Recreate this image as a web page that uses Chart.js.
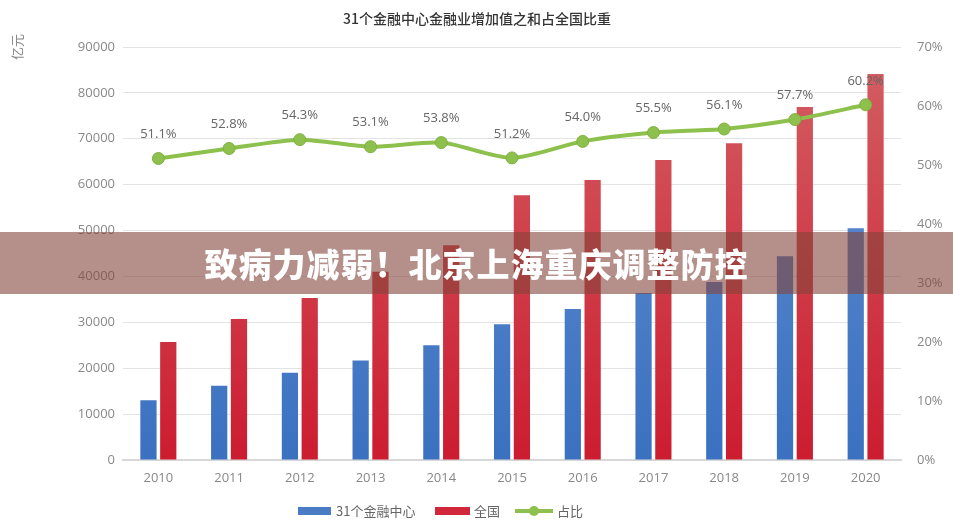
<!DOCTYPE html>
<html>
<head>
<meta charset="utf-8">
<script src="https://cdn.jsdelivr.net/npm/chart.js@4/dist/chart.umd.min.js"></script>
<style>
  html, body { margin: 0; padding: 0; background: #fff; }
  #wrap { position: relative; width: 953px; height: 527px; }
  #banner {
    position: absolute; left: 0; top: 232px; width: 953px; height: 62px;
    background: rgba(131, 68, 58, 0.6);
    color: #fff; font-family: 'Noto Sans CJK SC', sans-serif; font-weight: 900;
    font-size: 33px; line-height: 62px; text-align: center; letter-spacing: 1px;
  }
</style>
</head>
<body>
<div id="wrap">
  <canvas id="finChart" width="953" height="527"></canvas>
  <div id="banner">致病力减弱！北京上海重庆调整防控</div>
</div>
<script>
const years = ['2010', '2011', '2012', '2013', '2014', '2015', '2016', '2017', '2018', '2019', '2020'];
const centers31 = [13000, 16200, 19000, 21700, 25000, 29600, 32900, 36400, 38800, 44400, 50500];
const national = [25700, 30700, 35300, 41000, 46800, 57700, 61000, 65400, 69000, 76900, 84100];
const share = [51.1, 52.8, 54.3, 53.1, 53.8, 51.2, 54.0, 55.5, 56.1, 57.7, 60.2];

const font = "'Open Sans', 'Noto Sans CJK SC', sans-serif";
const cjk = "'Noto Sans CJK SC', sans-serif";

function grad(ctx, top, bottom) {
    const area = ctx.chart.chartArea;
    if (!area) return bottom;
    const g = ctx.chart.ctx.createLinearGradient(0, area.top, 0, area.bottom);
    g.addColorStop(0, top);
    g.addColorStop(1, bottom);
    return g;
}

// labels above the line points, title, unit and legend
const extras = {
    id: 'extras',
    afterDatasetsDraw(chart) {
        const c = chart.ctx;
        const meta = chart.getDatasetMeta(0);
        c.save();
        c.font = '13px ' + font;
        c.fillStyle = '#666';
        c.textAlign = 'center';
        c.textBaseline = 'middle';
        meta.data.forEach((pt, i) => {
            c.fillText(share[i].toFixed(1) + '%', pt.x, pt.y - 24);
        });
        c.restore();
    },
    afterDraw(chart) {
        const c = chart.ctx;
        c.save();
        c.fillStyle = '#333';
        c.font = '500 14px ' + cjk;
        c.textAlign = 'center';
        c.textBaseline = 'middle';
        c.fillText('31个金融中心金融业增加值之和占全国比重', 477, 19);

        c.translate(17, 47);
        c.rotate(-Math.PI / 2);
        c.fillStyle = '#888';
        c.font = '13px ' + cjk;
        c.fillText('亿元', 0, 0);
        c.restore();

        // legend
        c.save();
        c.font = '13px ' + cjk;
        c.textBaseline = 'middle';
        const y = 511;
        c.fillStyle = '#4a7cc6';
        c.fillRect(298, y - 4, 33, 8);
        c.fillStyle = '#666';
        c.fillText('31个金融中心', 336, y);
        c.fillStyle = '#d0283a';
        c.fillRect(435, y - 4, 35, 8);
        c.fillStyle = '#666';
        c.fillText('全国', 474, y);
        c.strokeStyle = '#8dc04c';
        c.lineWidth = 4;
        c.beginPath();
        c.moveTo(515, y);
        c.lineTo(553, y);
        c.stroke();
        c.fillStyle = '#8dc04c';
        c.beginPath();
        c.arc(534, y, 5, 0, Math.PI * 2);
        c.fill();
        c.fillStyle = '#666';
        c.fillText('占比', 557, y);
        c.restore();
    }
};

const ctx = document.getElementById('finChart').getContext('2d');
const finChart = new Chart(ctx, {
    type: 'bar',
    data: {
        labels: years,
        datasets: [
            {
                label: '占比',
                type: 'line',
                data: share,
                yAxisID: 'y1',
                borderColor: '#8dc04c',
                backgroundColor: '#8dc04c',
                pointBackgroundColor: '#8dc04c',
                pointBorderColor: '#7fb040',
                borderWidth: 4,
                pointRadius: 6,
                pointBorderWidth: 1,
                tension: 0.25,
                order: 0
            },
            {
                label: '31个金融中心',
                data: centers31,
                yAxisID: 'y',
                backgroundColor: (c) => grad(c, '#6690d2', '#3a71c0'),
                categoryPercentage: 0.56,
                barPercentage: 0.82,
                order: 1
            },
            {
                label: '全国',
                data: national,
                yAxisID: 'y',
                backgroundColor: (c) => grad(c, '#d36064', '#cc1c30'),
                categoryPercentage: 0.56,
                barPercentage: 0.82,
                order: 1
            }
        ]
    },
    options: {
        responsive: false,
        animation: false,
        layout: { padding: { top: 47, left: 0, right: 0, bottom: 0 } },
        plugins: {
            legend: { display: false },
            title: { display: false },
            tooltip: { enabled: false }
        },
        scales: {
            x: {
                grid: { display: false, drawTicks: false },
                border: { color: '#d8d8d8', width: 2 },
                ticks: { color: '#888', font: { family: font, size: 13 }, padding: 10 },
                afterFit(scale) { scale.height = 67; }
            },
            y: {
                position: 'left',
                min: 0,
                max: 90000,
                grid: { color: '#e3e3e3', lineWidth: 1, drawTicks: false },
                border: { display: false },
                ticks: {
                    stepSize: 10000,
                    color: '#888',
                    font: { family: font, size: 13 },
                    padding: 8,
                    callback: function(value) { return String(value); }
                },
                afterFit(scale) { scale.width = 123; }
            },
            y1: {
                position: 'right',
                min: 0,
                max: 70,
                grid: { display: false, drawTicks: false },
                border: { display: false },
                ticks: {
                    stepSize: 10,
                    color: '#888',
                    font: { family: font, size: 13 },
                    padding: 16,
                    callback: function(value) { return value + '%'; }
                },
                afterFit(scale) { scale.width = 52; }
            }
        }
    },
    plugins: [extras]
});
</script>
</body>
</html>
